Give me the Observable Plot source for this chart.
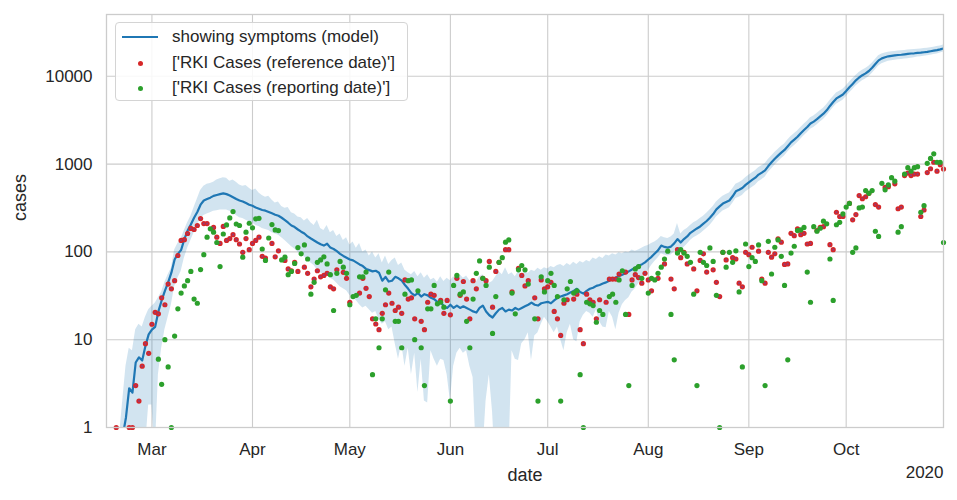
<!DOCTYPE html>
<html>
<head>
<meta charset="utf-8">
<script src="https://cdn.jsdelivr.net/npm/d3@7"></script>
<script src="https://cdn.jsdelivr.net/npm/@observablehq/plot@0.6"></script>
<style>
  html, body { margin: 0; padding: 0; background: #ffffff; }
  #wrap { position: relative; width: 957px; height: 500px; font-family: "Liberation Sans", Arial, sans-serif; color: #262626; }
  #legend { position: absolute; left: 115px; top: 22px; width: 293px; height: 79px; box-sizing: border-box;
    border: 1px solid #d4d4d4; border-radius: 4px; background: rgba(255,255,255,0.85); font-size: 17px; }
  .entry { position: absolute; left: 0; height: 24px; width: 290px; }
  .entry span.lbl { position: absolute; left: 56px; top: 50%; transform: translateY(-50%); white-space: nowrap; }
  .sw-line { position: absolute; left: 6px; top: 50%; width: 36px; height: 2.4px; margin-top: -1.2px; background: #1f77b4; }
  .sw-dot { position: absolute; left: 22px; top: 50%; width: 5px; height: 5px; margin-top: -2.5px; border-radius: 50%; }
</style>
</head>
<body>
<div id="wrap">
  <div id="chart"></div>
  <div id="legend">
    <div class="entry" style="top:2px"><div class="sw-line"></div><span class="lbl">showing symptoms (model)</span></div>
    <div class="entry" style="top:28px"><div class="sw-dot" style="background:#d62728"></div><span class="lbl">['RKI Cases (reference date)']</span></div>
    <div class="entry" style="top:53px"><div class="sw-dot" style="background:#2ca02c"></div><span class="lbl">['RKI Cases (reporting date)']</span></div>
  </div>
</div>
<script>
// first day of all daily series: 2020-02-19
const startDate = "2020-02-19";
const xDomain = ["2020-02-16", "2020-10-31"];
const monthTicks = ["2020-03-01","2020-04-01","2020-05-01","2020-06-01","2020-07-01","2020-08-01","2020-09-01","2020-10-01"];
const yTicks = [1, 10, 100, 1000, 10000];
const yDomain = [1, 50600];

// model: showing symptoms (median), daily
const model = [
  0.3, 0.5, 0.8, 1.3, 2.8, 2.5, 5.5, 6.3, 5.8, 8.5, 11.5,
  13, 14, 21, 28, 36, 45, 58, 82, 95, 105,
  140, 175, 205, 245, 285, 345, 385, 400, 415, 435,
  445, 455, 465, 455, 440, 420, 400, 385, 375, 360,
  345, 335, 320, 310, 300, 295, 285, 275, 265, 258,
  245, 230, 215, 200, 192, 180, 170, 162, 150, 142,
  135, 128, 122, 118, 124, 112, 108, 102, 95, 90,
  86, 82, 80, 76, 72, 69, 64, 62, 60, 61,
  58, 47, 52, 46, 47, 52, 50, 47, 42, 38,
  34, 32, 34, 31, 33, 32, 30, 29, 27, 27,
  24, 23, 25, 23, 24.5, 23, 24, 23, 22, 21,
  20.4, 23, 24.5, 21, 19, 17.9, 20, 22, 23, 21,
  22, 21.5, 23, 22, 23, 24, 25, 26.5, 25, 24.5,
  26, 26.5, 27, 26, 28, 30, 31, 32, 33, 34.5,
  36, 38, 35, 33.5, 36, 38, 39, 41, 42, 43.6,
  45, 47, 49, 51, 53, 55, 57, 60, 63, 66,
  70, 72, 76, 82, 88, 96, 104, 118, 114, 112,
  115, 125, 140, 128, 140, 150, 165, 175, 185, 195,
  210, 225, 245, 270, 305, 330, 355, 370, 385, 430,
  490, 510, 535, 580, 620, 660, 700, 760, 800, 850,
  950, 1050, 1150, 1250, 1350, 1450, 1600, 1770, 1900, 2050,
  2250, 2450, 2650, 2900, 3050, 3250, 3500, 3750, 4100, 4600,
  5100, 5600, 5900, 6200, 6800, 7500, 8200, 9000, 9700, 10300,
  10800, 11500, 12500, 13800, 15200, 16000, 16500, 16900, 17100, 17300,
  17500, 17600, 17800, 18000, 18200, 18300, 18500, 18600, 18800, 19000,
  19300, 19600, 19900, 20300, 20800
];

// model: lower bound of the band
const lower = [
  0.1, 0.1, 0.1, 0.1, 0.2, 0.3, 0.4, 0.5, 0.5, 0.6, 1.8,
  1.8, 0.5, 4, 8, 13, 18, 25, 40, 50, 60,
  85, 110, 135, 165, 200, 240, 260, 270, 280, 290,
  295, 300, 300, 300, 290, 280, 260, 245, 240, 230,
  220, 215, 200, 195, 185, 180, 175, 165, 160, 155,
  145, 135, 125, 115, 108, 100, 92, 88, 80, 75,
  70, 62, 58, 55, 55, 50, 48, 44, 40, 38,
  36, 32, 30, 28, 25, 23, 24, 22, 20, 21,
  17, 15, 16, 13, 14, 9, 6, 9, 5, 8,
  4, 7, 2.5, 6, 2, 1.9, 7.5, 6, 5, 6,
  5.8, 4, 2, 5, 7, 8, 7, 7.5, 5, 3.7,
  0.5, 0.3, 0.5, 2, 4, 1.5, 0.3, 0.2, 0.3, 0.2,
  0.4, 7.5, 6, 5.8, 9, 10, 12, 5.8, 11, 12,
  15, 18, 16, 14, 12, 14, 10, 7.5, 12, 15,
  10, 9.5, 16, 19, 21, 20, 18, 22, 16, 14,
  13.7, 21, 18, 13, 20, 25, 28, 30, 35, 38,
  43, 48, 55, 61, 70, 78, 85, 95, 92, 90,
  92, 100, 112, 105, 112, 122, 135, 145, 152, 160,
  172, 185, 200, 222, 250, 270, 292, 305, 318, 355,
  405, 420, 440, 480, 510, 540, 575, 630, 665, 710,
  800, 880, 970, 1060, 1150, 1240, 1370, 1510, 1620, 1750,
  1920, 2100, 2270, 2490, 2620, 2790, 3010, 3230, 3530, 3950,
  4380, 4810, 5080, 5330, 5850, 6450, 7050, 7750, 8350, 8880,
  9300, 9900, 10800, 11900, 13100, 13900, 14400, 14800, 15000, 15200,
  15400, 15500, 15700, 15900, 16100, 16300, 16600, 16700, 16900, 17100,
  17400, 17700, 18000, 18400, 18900
];

// model: upper bound of the band
const upper = [
  0.5, 0.8, 2, 5, 8, 7.5, 13, 15, 14, 18, 22,
  24, 26, 30, 35, 45, 55, 65, 105, 125, 140,
  175, 215, 255, 320, 400, 500, 560, 590, 600, 620,
  660, 680, 700, 690, 640, 660, 620, 580, 560, 570,
  530, 500, 520, 470, 440, 420, 430, 390, 360, 370,
  330, 315, 320, 280, 270, 250, 245, 225, 240, 215,
  200, 230, 185, 175, 200, 165, 175, 150, 160, 135,
  145, 120, 130, 110, 125, 100, 105, 90, 100, 85,
  95, 75, 90, 72, 80, 85, 70, 75, 62, 58,
  55, 60, 52, 58, 50, 55, 48, 50, 45, 52,
  46, 50, 47, 52, 48, 55, 50, 53, 47, 50,
  45, 52, 55, 48, 44, 46, 52, 60, 55, 66,
  55, 58, 52, 60, 55, 60, 57, 62, 60, 65,
  62, 66, 64, 68, 66, 70, 72, 68, 74, 70,
  76, 72, 78, 75, 80, 77, 85, 82, 88, 84,
  92, 90, 95, 92, 98, 95, 100, 98, 105, 102,
  105, 110, 115, 118, 125, 130, 138, 150, 145, 142,
  148, 160, 210, 160, 175, 185, 200, 215, 225, 240,
  255, 275, 300, 330, 370, 400, 430, 450, 470, 520,
  590, 615, 645, 700, 745, 790, 840, 910, 960, 1010,
  1130, 1240, 1360, 1470, 1590, 1700, 1880, 2070, 2220, 2390,
  2620, 2850, 3080, 3370, 3540, 3770, 4050, 4330, 4730, 5300,
  5870, 6450, 6780, 7120, 7780, 8570, 9360, 10250, 11030, 11700,
  12250, 13000, 14100, 15500, 17100, 17900, 18400, 18800, 19000, 19200,
  19400, 19500, 19700, 19900, 20100, 20200, 20400, 20500, 20700, 20900,
  21200, 21500, 21800, 22200, 22700
];

// RKI cases by reference date (null = no dot)
const refCases = [
  1, null, null, null, 1, 1, 3, 2, 5, 9, 7,
  15, 20.5, 19.7, 30, 25, 43, 38, 47, 91, 135,
  138, 162, 185, 180, 200, 240, 210, 210, null, 190,
  147, 125, 195, 135, 142, 157, 138, 123, 99, 142,
  106, 125, 135, 147, 89, 85, null, 125, 88, 103,
  null, 80, 64, 61, 76, 60, null, 67, 57, 40,
  49, 61, 52, 54, 57, 40, 38, 62.5, null, 58.5,
  50, 26.7, null, null, 34, 50, 38.5, 31, 17.3, 15.1,
  13, 20, 25, 34, 26, 21.5, 23.5, 20, 48, 29,
  30, 17.3, null, 16.2, 13, 26.7, 33, 32, null, 28,
  20, 28, 19.2, null, 50, 32, 46, 29, 17.3, 47,
  38, null, 50, 47, 78, 23.5, 60, 76, null, 106,
  106, 35, null, 65, 54, 41, 47, null, 30, 17.3,
  48, 38, 40, 45, 21, 17.3, 11.2, 26, 28.5, null,
  29, 33, 13, 9, 33, 28.5, 26.7, 17.3, 28.5, null,
  26.7, 49, 49, 49, 56, null, 59, 19.4, 48, 55,
  51, 44, 57, 48, 36, null, 50, null, 73, null,
  49, 38, 106, 86, 99, 73, null, 64, 36, 80,
  95, 59, null, 62.5, 45, 31, 99, 81, null, 86,
  83, 44, 40, 99, 93, 113, null, 102, 49, 44,
  99, 87, 95, 141, 129, 72, 73, 163, 153, 183,
  157, 163, 123, 125, null, 175, 190, 194, null, 121,
  106, 283, 253, 253, null, 357, 232, 266, 438, 403,
  425, 465, null, 346, 324, null, 542, 553, null, 596,
  310, 324, 740, 790, 740, 770, 770, 253, 300, 800,
  885, 1050, 830, 985, 880
];

// RKI cases by reporting date (null = no dot)
const repCases = [
  null, null, null, null, null, null, null, null, null, null, null,
  null, null, 6, 3.1, 10, 4.9, 1, 11, 22.5, 34,
  41, 47, 60, 29, 26, 63, 93, 147, 183, 168,
  128, 68, 160, 203, 244, 288, 208, 200, 87, 168,
  212, 188, 238, 241, 108, 80, 144, 205, 178, 175,
  81, 87, 55, 60, 74, 112, 95, 120, 83, 33,
  45, 76, 81, 88, 73, 55, 21.5, 57, 78, 67,
  57, 25, 31, 32, 52, 52, 59, null, 4, 17.3,
  8.1, 17.3, 37, 59, null, 16.2, 16.2, 8.1, 33, 47,
  48, 10, 36, 8.1, 3, 22.5, 22.5, 41.5, 25.6, 26.7,
  23.5, null, 2, 41.5, 54, 33, 35, 16.2, 8.1, 29,
  57, 79, 50, 41.5, 67, 11.8, 31, 76, 86, 129,
  137, 34, 19.7, 62.5, 70, 62.5, 43, null, 17.3, 2,
  52, 35, 47, 57, 41.5, 31, 2, 28.5, 38, 46,
  34, 36, 4, 1, 26.7, 25.6, 24.5, 15.8, 21.5, 19.4,
  null, 31, 33, 26.7, 48, 61, 19.4, 3, 41.5, 64,
  68, 50, null, 34, 50, 48, 57, 67, 83, 102,
  19.4, 5.9, 97, 106, 97, 89, 76, 33, 3, 99,
  76, 70, 111, 78, 32, 1, 99, 67, 99, 76,
  103, 35, 4.9, 123, 68, 86, 78, 120, 47, 3,
  132, 56, 113, 137, 89, 41.5, 5.9, 97, 116, 175,
  178, 190, 59, 26.7, 194, 172, 186, 224, 209, 83,
  28, 204, 217, 271, 324, 357, 99, 111, 317, 324,
  500, 465, 500, 172, 150, 604, 510, 580, 700, 640,
  168, 194, 770, 910, 830, 910, 935, 283, 336, 1020,
  1160, 1310, 1050, 1050, 128
];

const n = model.length;
[lower, upper, refCases, repCases].forEach((a, k) => {
  if (a.length !== n) throw new Error("length mismatch " + k + ": " + a.length + " vs " + n);
});

const t0 = new Date(startDate + "T00:00:00Z");
const rows = model.map((m, i) => ({
  date: d3.utcDay.offset(t0, i),
  model: m, lower: lower[i], upper: upper[i], ref: refCases[i], rep: repCases[i]
}));
const refRows = rows.filter(r => r.ref != null);
const repRows = rows.filter(r => r.rep != null);
const parse = s => new Date(s + "T00:00:00Z");
const mTicks = monthTicks.map(parse);

const chart = Plot.plot({
  width: 957,
  height: 500,
  marginLeft: 106,
  marginRight: 14,
  marginTop: 14,
  marginBottom: 73,
  style: { fontFamily: '"Liberation Sans", Arial, sans-serif', fontSize: "17px", color: "#262626", background: "#ffffff", overflow: "visible" },
  x: { type: "utc", domain: xDomain.map(parse), label: null },
  y: { type: "log", domain: yDomain, label: null },
  marks: [
    Plot.gridX(mTicks, { stroke: "#cccccc", strokeOpacity: 1, strokeWidth: 1.1 }),
    Plot.gridY(yTicks, { stroke: "#cccccc", strokeOpacity: 1, strokeWidth: 1.1 }),
    Plot.areaY(rows, { x: "date", y1: "lower", y2: "upper", fill: "#1f77b4", fillOpacity: 0.2, clip: true }),
    Plot.lineY(rows, { x: "date", y: "model", stroke: "#1f77b4", strokeWidth: 2.2, clip: true }),
    Plot.dot(refRows, { x: "date", y: "ref", r: 2.6, fill: "#d62728" }),
    Plot.dot(refRows, { x: "date", y: "ref", r: 1.1, fill: "#8a3f86", fillOpacity: 0.8 }),
    Plot.dot(repRows, { x: "date", y: "rep", r: 2.6, fill: "#2ca02c" }),
    Plot.frame({ stroke: "#cccccc", strokeWidth: 1.3 }),
    Plot.axisX(mTicks, { tickFormat: d3.utcFormat("%b"), tickSize: 0, tickPadding: 15, fontSize: 17, label: null }),
    Plot.axisY(yTicks, { tickFormat: d3.format("d"), tickSize: 0, tickPadding: 14, fontSize: 17, label: null }),
    Plot.text(["date"], { frameAnchor: "bottom", dy: 48, fontSize: 18, lineAnchor: "middle" }),
    Plot.text(["2020"], { frameAnchor: "bottom-right", dy: 45, fontSize: 17, textAnchor: "end", lineAnchor: "middle" }),
    Plot.text(["cases"], { frameAnchor: "left", dx: -86, rotate: -90, fontSize: 18, lineAnchor: "middle" })
  ]
});
document.getElementById("chart").appendChild(chart);
</script>
</body>
</html>
